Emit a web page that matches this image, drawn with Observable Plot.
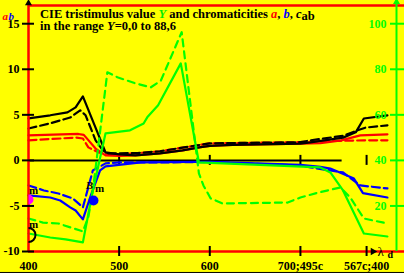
<!DOCTYPE html>
<html><head><meta charset="utf-8">
<script src="https://cdn.jsdelivr.net/npm/d3@7"></script>
<script src="https://cdn.jsdelivr.net/npm/@observablehq/plot@0.6"></script>
<style>html,body{margin:0;padding:0;background:#ffff00;} svg{display:block}</style>
</head><body><div id="chart"></div>
<script>
// ---- data (x: wavelength-like axis position, y: value) ----
const cSolid = [[400,4.62],[424,4.95],[443,5.27],[452,5.82],[460,7.03],[485,0.88],[500,0.66],[518,0.55],[545,0.77],[570,1.1],[590,1.45],[600,1.6],[625,1.7],[700,1.85],[711,1.98],[747,2.5],[761,3.08],[770,4.6],[796,4.95]];
const cDashed = [[400,3.5],[424,4.07],[446,4.7],[457,5.5],[463,4.95],[474,2.2],[482,1.1],[488,0.77],[520,0.8],[545,1.0],[570,1.4],[600,1.87],[700,2.0],[711,2.2],[747,2.7],[763,3.3],[772,3.6],[796,3.85]];
const aSolid = [[400,2.75],[455,2.9],[461,2.8],[474,1.3],[485,0.55],[500,0.5],[518,0.55],[545,0.77],[570,1.1],[590,1.45],[600,1.6],[625,1.7],[700,1.85],[722,1.9],[745,2.2],[766,2.75],[796,2.86]];
const aDashed = [[400,2.2],[452,2.5],[460,2.4],[466,1.43],[477,0.88],[490,0.6],[520,0.8],[545,1.0],[570,1.4],[600,1.87],[700,2.0],[722,2.1],[747,2.15],[770,2.2],[796,2.2]];
const bSolid = [[400,-3.85],[424,-4.07],[435,-4.4],[446,-5.16],[452,-5.5],[460,-6.48],[468,-4.07],[479,-1.1],[485,-0.66],[524,-0.22],[600,-0.15],[700,-0.5],[722,-0.7],[733,-0.9],[750,-1.6],[759,-2.0],[769,-3.6],[796,-4.07]];
const bDashed = [[400,-2.75],[417,-3.3],[433,-3.63],[449,-4.18],[460,-5.16],[471,-1.1],[485,-0.33],[500,-0.22],[600,-0.2],[700,-0.55],[711,-0.77],[747,-1.32],[766,-2.75],[796,-3.08]];
// tristimulus Y (right axis units)
const YSolid = [[400,7.9],[424,6.15],[441,5.3],[460,4.0],[471,26.8],[485,51.9],[512,53.2],[527,56.2],[531,58.9],[543,64.2],[568,82.6],[588,39.1],[722,36.9],[733,34.7],[747,26.8],[770,7.9],[796,6.6]];
const YDashed = [[400,14.5],[416,12.7],[433,12.3],[457,9.2],[460,8.8],[466,15.1],[471,26.8],[487,78.7],[498,76.5],[518,73.8],[535,72.1],[546,75],[569,96.3],[588,34.3],[593,29.0],[601,23.3],[614,21.1],[686,21.5],[700,23.7],[720,25.9],[744,28.1],[755,23.7],[770,14.5],[796,12.3]];

const leftTicks = [15,10,5,0,-5,-10];
const leftLabels = ["15","10","5","0","-5","-10"];
const rightTicks = [100,80,60,40,20];
const xTickPos = [500,600,700,773];
const xLabelPos = [400,500,600,700,773];
const xLabels = ["400","500","600","700;495c","567c;400"];
const zeroLine = [400,746];
const magentaMark = [[400,-4.29]];
const blackArc = [[400,-8.19]];
const blueDot = [[471.7,-4.4]];
const mLabels = [[405.5,-3.3,"m"],[405.5,-6.98,"m"],[478.3,-3.08,"m"]];
const bLabel = [[467.3,-2.75,"B"]];
const titleLine1 = [["CIE tristimulus value ","black",""],["Y","#00ee00","italic"],[" and chromaticities ","black",""],["a","red","italic"],[", ","black",""],["b","blue","italic"],[", ","black",""],["c","black","italic"]];
const titleLine2 = [["in the range ","black",""],["Y","black","italic"],["=0,0 to 88,6","black",""]];

const right = r => r / 4 - 10; // right axis -> left axis units
const GREEN = "#00ff00";
const halfRight = {draw(ctx, size){const r=Math.sqrt(size/Math.PI); ctx.moveTo(0,-r); ctx.arc(0,0,r,-Math.PI/2,Math.PI/2);}};
const px = d => d[0], py = d => d[1];

const chart = Plot.plot({
  width: 404, height: 273,
  marginLeft: 28, marginRight: 8, marginTop: 5, marginBottom: 22,
  x: {domain: [400, 806], axis: null},
  y: {domain: [-10, 17], axis: null},
  style: {background: "#ffff00", fontFamily: "'Liberation Serif','Times New Roman',serif", fontWeight: "bold", fontSize: "12px", overflow: "visible"},
  marks: [
    // bottom black border line
    Plot.ruleY([-12.3], {x1: 400 - 28/0.9064, x2: 815, stroke: "black", strokeWidth: 1}),
    // zero line with ticks
    Plot.ruleY([0], {x1: zeroLine[0], x2: zeroLine[1], stroke: "black", strokeWidth: 2}),
    Plot.ruleX(xTickPos, {x: d => d, y1: 0, y2: 0, insetTop: -5, insetBottom: -5, stroke: "black", strokeWidth: 2}),
    // series
    Plot.line(aDashed, {x: px, y: py, stroke: "red", strokeWidth: 2.2, strokeDasharray: "8,4"}),
    Plot.line(aSolid, {x: px, y: py, stroke: "red", strokeWidth: 2.2}),
    Plot.line(cDashed, {x: px, y: py, stroke: "black", strokeWidth: 2.2, strokeDasharray: "8,4"}),
    Plot.line(cSolid, {x: px, y: py, stroke: "black", strokeWidth: 2.2}),
    Plot.line(bDashed, {x: px, y: py, stroke: "blue", strokeWidth: 2.2, strokeDasharray: "8,4"}),
    Plot.line(bSolid, {x: px, y: py, stroke: "blue", strokeWidth: 2.2}),
    Plot.line(YDashed, {x: px, y: d => right(d[1]), stroke: GREEN, strokeWidth: 2.2, strokeDasharray: "7,5"}),
    Plot.line(YSolid, {x: px, y: d => right(d[1]), stroke: GREEN, strokeWidth: 2.2}),
    // frame lines
    Plot.ruleY([17], {x1: 400, x2: 815, stroke: "red", strokeWidth: 2.5}),
    Plot.ruleY([-10], {x1: 400, x2: 815, stroke: "red", strokeWidth: 2.5}),
    Plot.ruleX([400], {y1: -10, y2: 17, stroke: "red", strokeWidth: 2.5}),
    Plot.ruleX([806], {y1: -10, y2: 17.6, stroke: GREEN, strokeWidth: 2}),
    // left ticks & labels
    Plot.ruleY(leftTicks, {y: d => d, x1: 400, x2: 400, insetLeft: -6, insetRight: -6, stroke: "black", strokeWidth: 2}),
    Plot.text(leftTicks, {x: 400, y: d => d, text: (d, i) => leftLabels[i], textAnchor: "end", dx: -9, fill: "black", fontSize: 12}),
    // right ticks & labels
    Plot.ruleY(rightTicks, {y: d => right(d), x1: 806, x2: 806, insetLeft: -6, insetRight: -8, stroke: GREEN, strokeWidth: 2}),
    Plot.text(rightTicks, {x: 806, y: d => right(d), text: d => String(d), textAnchor: "end", dx: -10, fill: GREEN, fontSize: 12}),
    // bottom ticks & labels
    Plot.ruleX(xTickPos, {x: d => d, y1: -10, y2: -10, insetTop: -5, insetBottom: -5, stroke: "black", strokeWidth: 2}),
    Plot.text(xLabelPos, {x: d => d, y: -10, text: (d, i) => xLabels[i], dy: 15, fill: "black", fontSize: 12}),
    // arrows
    Plot.dot([0], {x: 400, y: 17.25, symbol: "triangle", r: 2.6, fill: "black"}),
    Plot.dot([0], {x: 806, y: 17.4, symbol: "triangle", r: 2.6, fill: GREEN}),
    Plot.dot([0], {x: 780, y: -10, symbol: "triangle", r: 2.8, rotate: 90, fill: "black"}),
    Plot.text(["λ"], {x: 785, y: -10, textAnchor: "start", fontSize: 13, fontWeight: "normal", fill: "black"}),
    Plot.text(["d"], {x: 796, y: -10, dy: 3, textAnchor: "start", fontSize: 10, fill: "black"}),
    // axis name a b
    Plot.text(["a"], {frameAnchor: "top-left", dx: -26, dy: 7, textAnchor: "start", fill: "red", fontStyle: "italic", fontSize: 11}),
    Plot.text(["b"], {frameAnchor: "top-left", dx: -20, dy: 7, textAnchor: "start", fill: "blue", fontStyle: "italic", fontSize: 11}),
    // markers
    Plot.dot(magentaMark, {x: px, y: py, r: 5, symbol: halfRight, fill: "#ff00ff", stroke: "none"}),
    Plot.dot(blackArc, {x: px, y: py, r: 7, symbol: halfRight, fill: "none", stroke: "black", strokeWidth: 2}),
    Plot.dot(blueDot, {x: px, y: py, r: 5, fill: "blue", stroke: "none"}),
    Plot.text(mLabels, {x: px, y: py, text: d => d[2], fontSize: 11, fill: "black"}),
    Plot.text(bLabel, {x: px, y: py, text: d => d[2], fontSize: 11, fontStyle: "italic", fill: "black"})
  ]
});

// title with mixed colours
const svg = d3.select(chart);
const sx = chart.scale("x"), sy = chart.scale("y");
const tx = sx.apply(400) + 12;
const ty = sy.apply(17);
function addLine(parts, y, extra) {
  const t = svg.append("text").attr("x", tx).attr("y", y)
    .attr("text-anchor", "start")
    .attr("font-family", "'Liberation Serif','Times New Roman',serif")
    .attr("font-weight", "bold").attr("font-size", 12.5);
  parts.forEach(p => {
    const s = t.append("tspan").attr("fill", p[1]).text(p[0]);
    if (p[2]) s.attr("font-style", p[2]);
  });
  if (extra) t.append("tspan").attr("dy", 2).attr("fill", "black").text(extra);
}
addLine(titleLine1, ty + 12.5, "ab");
addLine(titleLine2, ty + 24.5);
document.getElementById("chart").append(chart);
</script>
</body></html>
